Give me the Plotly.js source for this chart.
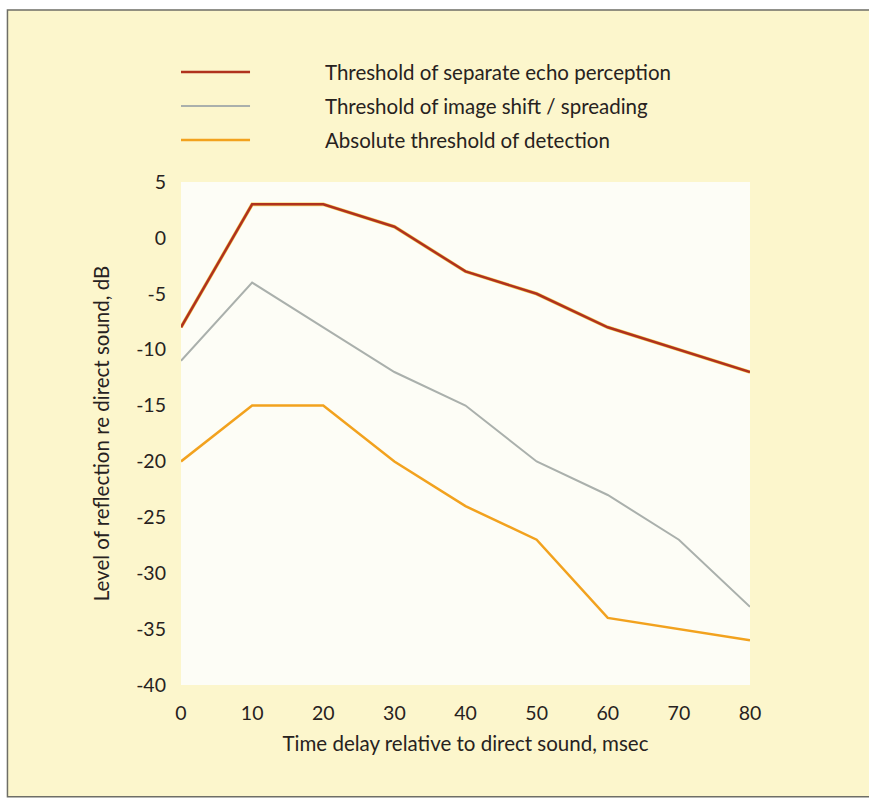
<!DOCTYPE html>
<html>
<head>
<meta charset="utf-8">
<script src="https://cdn.plot.ly/plotly-3.0.1.min.js"></script>
<style>
html,body{margin:0;padding:0;background:#ffffff;}
#chart{width:869px;height:800px;}
</style>
</head>
<body>
<div id="chart"></div>
<script>
// Data
const delays = [0, 10, 20, 30, 40, 50, 60, 70, 80];
const echoThreshold = [-8, 3, 3, 1, -3, -5, -8, -10, -12];
const shiftThreshold = [-11, -4, -8, -12, -15, -20, -23, -27, -33];
const absoluteThreshold = [-20, -15, -15, -20, -24, -27, -34, -35, -36];
const seriesNames = [
  "Threshold of separate echo perception",
  "Threshold of image shift / spreading",
  "Absolute threshold of detection"
];
const xTicks = [0, 10, 20, 30, 40, 50, 60, 70, 80];
const yTicks = [5, 0, -5, -10, -15, -20, -25, -30, -35, -40];

const colors = ["#b0321e", "#aab0ac", "#f2a21e"];
const widths = [2.5, 2, 2.5];
const seriesValues = [echoThreshold, shiftThreshold, absoluteThreshold];

const font = "Lato, 'Open Sans', sans-serif";
const textColor = "#27221e";

const traces = seriesValues.map((vals, i) => ({
  x: delays, y: vals, type: "scatter", mode: "lines",
  name: seriesNames[i],
  line: {color: colors[i], width: widths[i]},
  showlegend: false, cliponaxis: false
}));
// soft yellow halo under the red line
traces.unshift({
  x: delays, y: echoThreshold, type: "scatter", mode: "lines",
  line: {color: "#f5cf5a", width: 3.6}, showlegend: false, hoverinfo: "skip", cliponaxis: false
});

const legendY = [1.2187, 1.1511, 1.0835];
const shapes = [{
  type: "rect", xref: "paper", yref: "paper", layer: "below",
  x0: -0.305, x1: 1.3, y0: -0.222, y1: 1.342,
  fillcolor: "#fcf6cc", line: {color: "#6e6e66", width: 1.5}
}, {
  type: "rect", xref: "paper", yref: "paper", layer: "below",
  x0: 0, x1: 1, y0: 0, y1: 1,
  fillcolor: "#fdfdf6", line: {width: 0}
}];
const annotations = [];
seriesNames.forEach((n, i) => {
  shapes.push({
    type: "line", xref: "paper", yref: "paper",
    x0: 0, x1: 0.1213, y0: legendY[i], y1: legendY[i],
    line: {color: colors[i], width: widths[i]}
  });
  annotations.push({
    xref: "paper", yref: "paper", x: 0.2496, y: legendY[i],
    xanchor: "left", yanchor: "middle", showarrow: false,
    text: n, font: {family: font, size: 20.5, color: textColor}
  });
});

const layout = {
  width: 869, height: 800,
  margin: {l: 181, r: 119, t: 182, b: 115},
  paper_bgcolor: "#ffffff",
  plot_bgcolor: "rgba(0,0,0,0)",
  font: {family: font, size: 19, color: textColor},
  xaxis: {
    range: [0, 80], tickvals: xTicks, ticktext: xTicks.map(String),
    showgrid: false, zeroline: false, showline: false, ticks: "",
    ticklabelstandoff: 14,
    tickfont: {family: font, size: 19.5, color: textColor},
    title: {text: "Time delay relative to direct sound, msec", standoff: 14,
            font: {family: font, size: 20.5, color: textColor}}
  },
  yaxis: {
    range: [-40, 5], tickvals: yTicks, ticktext: yTicks.map(String),
    showgrid: false, zeroline: false, showline: false, ticks: "",
    ticklabelstandoff: 14,
    tickfont: {family: font, size: 19.5, color: textColor},
    title: {text: "Level of reflection re direct sound, dB", standoff: 20,
            font: {family: font, size: 20.5, color: textColor}}
  },
  shapes: shapes,
  annotations: annotations
};

Plotly.newPlot("chart", traces, layout, {displayModeBar: false, staticPlot: true});
</script>
</body>
</html>
